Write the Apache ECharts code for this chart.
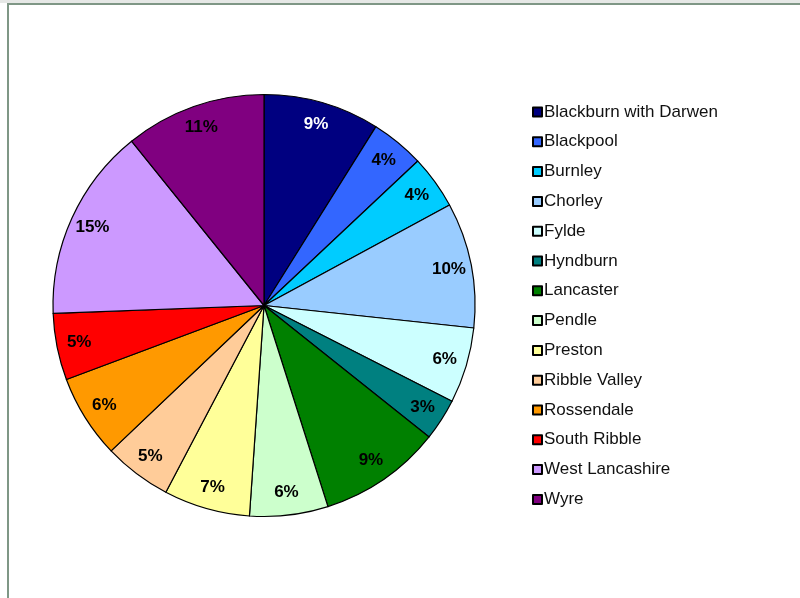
<!DOCTYPE html>
<html>
<head>
<meta charset="utf-8">
<script src="https://cdn.jsdelivr.net/npm/echarts@6/dist/echarts.min.js"></script>
<style>
  html, body { margin: 0; padding: 0; background: #fff; }
  #strip { position: absolute; left: 0; top: 0; width: 800px; height: 3px; background: #e6e8e6; }
  #frame { position: absolute; left: 7px; top: 3px; width: 800px; height: 600px;
           border-top: 2px solid #7f9786; border-left: 2px solid #7f9786; }
  #main { position: absolute; left: 0; top: 0; width: 800px; height: 598px; }
</style>
</head>
<body>
<div id="strip"></div>
<div id="frame"></div>
<div id="main"></div>
<script>
// districts, clockwise from 12 o'clock
var districts = ['Blackburn with Darwen', 'Blackpool', 'Burnley', 'Chorley', 'Fylde',
  'Hyndburn', 'Lancaster', 'Pendle', 'Preston', 'Ribble Valley', 'Rossendale',
  'South Ribble', 'West Lancashire', 'Wyre']
// share of total (%)
var shares = [8.9, 4.1, 4.1, 9.6, 5.8, 3.2, 9.4, 6.0, 6.6, 5.2, 6.4, 5.1, 14.8, 10.8]
var sliceColors = ['#000080', '#3366ff', '#00ccff', '#99ccff', '#ccffff', '#008080',
  '#008000', '#ccffcc', '#ffff99', '#ffcc99', '#ff9900', '#ff0000', '#cc99ff', '#800080']
var labelColors = ['#ffffff', '#000', '#000', '#000', '#000', '#000', '#000',
  '#000', '#000', '#000', '#000', '#000', '#000', '#000']

var chart = echarts.init(document.getElementById('main'))

var center = [264, 305.5]

chart.setOption({
  animation: false,
  legend: {
    orient: 'vertical',
    left: 527,
    top: 97,
    data: districts,
    icon: 'rect',
    itemWidth: 9,
    itemHeight: 9,
    itemGap: 9.8,
    selectedMode: false,
    textStyle: {
      fontFamily: 'Liberation Sans, Arial, sans-serif',
      fontSize: 17,
      color: '#111',
      lineHeight: 20,
      padding: [0, 0, 0, -3]
    }
  },
  series: [
    {
      type: 'pie',
      center: center,
      radius: [0, 211],
      startAngle: 90,
      clockwise: true,
      silent: true,
      label: { show: false },
      labelLine: { show: false },
      itemStyle: { borderColor: '#000', borderWidth: 1.2 },
      data: districts.map(function (d, i) {
        return { name: d, value: shares[i], itemStyle: { color: sliceColors[i] } }
      })
    },
    { // labels only, placed near the rim
      type: 'pie',
      center: center,
      radius: [160, 211],
      startAngle: 90,
      clockwise: true,
      silent: true,
      itemStyle: { color: 'rgba(0,0,0,0)', borderWidth: 0 },
      emphasis: { disabled: true },
      labelLine: { show: false },
      label: {
        show: true,
        position: 'inside',
        fontFamily: 'Liberation Sans, Arial, sans-serif',
        fontSize: 17,
        fontWeight: 'bold',
        formatter: function (p) { return Math.round(p.percent) + '%' }
      },
      data: districts.map(function (d, i) {
        return { name: d, value: shares[i], label: { color: labelColors[i] } }
      })
    }
  ]
})
</script>
</body>
</html>
